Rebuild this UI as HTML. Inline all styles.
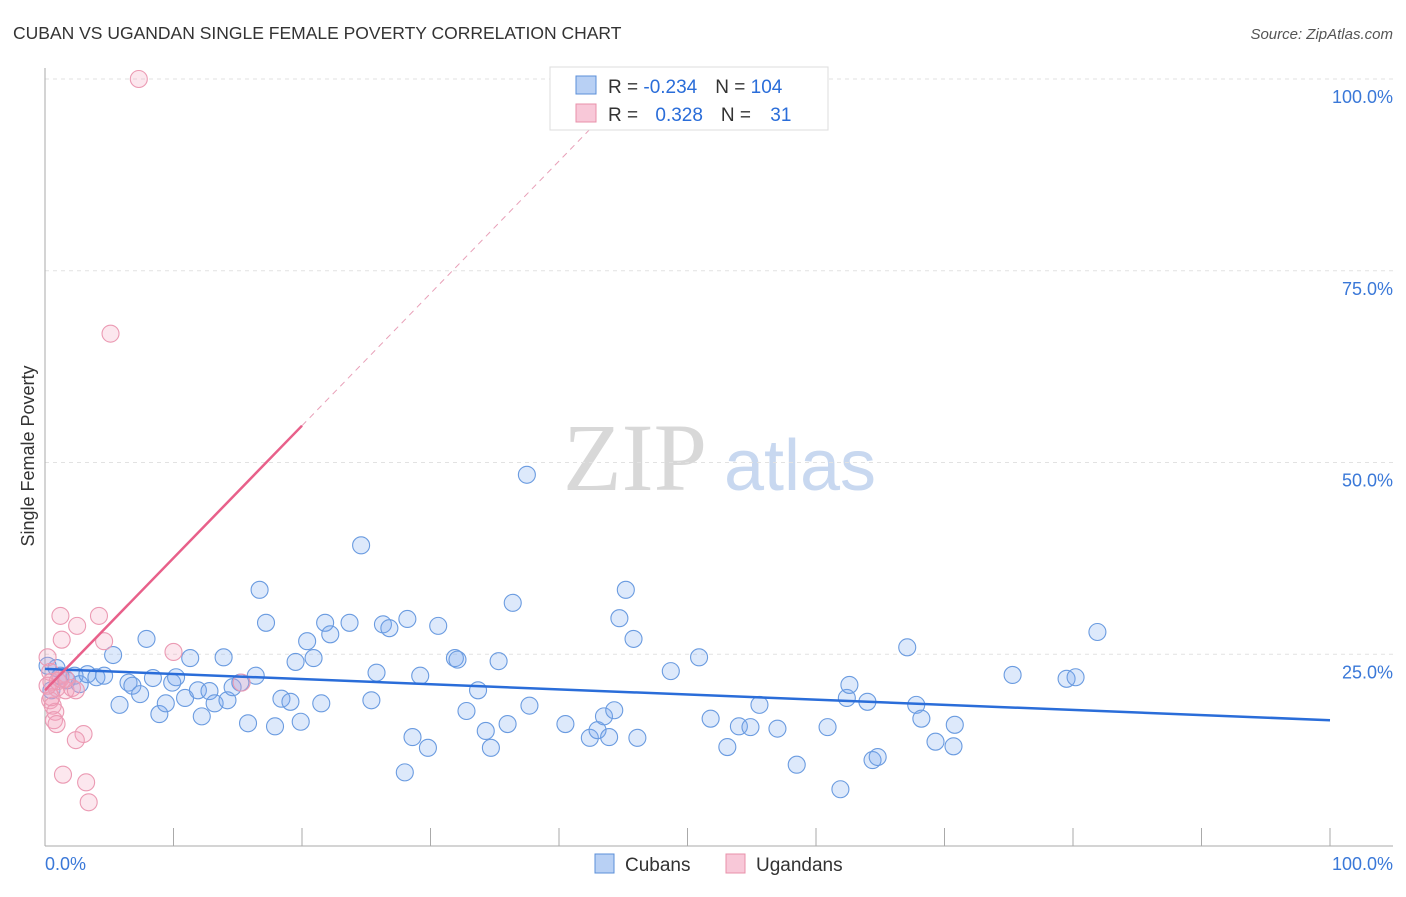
<!DOCTYPE html>
<html><head><meta charset="utf-8"><style>
body{margin:0;background:#fff;font-family:"Liberation Sans",sans-serif;}
svg text{font-family:"Liberation Sans",sans-serif;}
</style></head><body>
<svg id="chart" width="1406" height="892" xmlns="http://www.w3.org/2000/svg">
<text x="13" y="39" font-size="17.5" fill="#333">CUBAN VS UGANDAN SINGLE FEMALE POVERTY CORRELATION CHART</text>
<text x="1393" y="39" font-size="15" fill="#555" text-anchor="end" font-style="italic">Source: ZipAtlas.com</text>
<g><text x="635" y="490" font-size="96" fill="#d8d8d8" text-anchor="middle" style="font-family:'Liberation Serif',serif">ZIP</text><text x="800" y="490" font-size="72" fill="#c8d8f0" text-anchor="middle">atlas</text></g>
<g id="grid"></g><g id="axes"></g>
<text transform="translate(34,456) rotate(-90)" font-size="18" fill="#333" text-anchor="middle">Single Female Poverty</text>
<g id="pts"></g><g id="lines"></g>
<g>
<rect x="550" y="67" width="278" height="63" fill="#fff" stroke="#ddd"/>
<rect x="576" y="76" width="20" height="18" fill="#b8d0f4" stroke="#5b8fd8"/>
<rect x="576" y="104" width="20" height="18" fill="#f8c8d8" stroke="#e890aa"/>
<text x="608" y="93" font-size="19" fill="#333">R = <tspan fill="#2a6dd9">-0.234</tspan><tspan dx="18" fill="#333">N = </tspan><tspan fill="#2a6dd9">104</tspan></text>
<text x="608" y="121" font-size="19" fill="#333">R = <tspan dx="12" fill="#2a6dd9">0.328</tspan><tspan dx="18" fill="#333">N = </tspan><tspan dx="14" fill="#2a6dd9">31</tspan></text>
</g>
<g>
<rect x="595" y="854" width="19" height="19" fill="#b8d0f4" stroke="#5b8fd8"/>
<text x="625" y="871" font-size="19" fill="#333">Cubans</text>
<rect x="726" y="854" width="19" height="19" fill="#f8c8d8" stroke="#e890aa"/>
<text x="756" y="871" font-size="19" fill="#333">Ugandans</text>
</g>
</svg>
<script>
const cubanX=[0.9,1.2,1.7,2.3,2.7,3.3,4.0,4.6,5.3,5.8,6.5,6.8,7.4,7.9,8.4,8.9,9.4,9.9,10.2,10.9,11.3,11.9,12.2,12.8,13.2,13.9,14.2,14.6,15.2,15.8,16.4,16.7,17.2,17.9,18.4,19.1,19.5,19.9,20.4,20.9,21.5,21.8,22.2,23.7,24.6,25.4,25.8,26.3,26.8,28.0,28.2,28.6,29.2,29.8,30.6,31.9,32.1,32.8,33.7,34.3,34.7,35.3,36.0,36.4,37.7,37.5,40.5,42.4,43.0,43.5,43.9,44.3,44.7,45.2,45.8,46.1,48.7,50.9,51.8,53.1,54.0,54.9,55.6,57.0,58.5,60.9,61.9,62.4,62.6,64.0,64.4,64.8,67.1,67.8,68.2,69.3,70.7,70.8,75.3,79.5,80.2,81.9,0.2,0.5];
const cubanY=[23.2,22.2,21.6,22.2,21.1,22.4,22.0,22.2,24.9,18.4,21.3,20.9,19.8,27.0,21.9,17.2,18.6,21.3,22.0,19.3,24.5,20.3,16.9,20.2,18.6,24.6,19.0,20.7,21.3,16.0,22.2,33.4,29.1,15.6,19.2,18.8,24.0,16.2,26.7,24.5,18.6,29.1,27.6,29.1,39.2,19.0,22.6,28.9,28.4,9.6,29.6,14.2,22.2,12.8,28.7,24.5,24.3,17.6,20.3,15.0,12.8,24.1,15.9,31.7,18.3,48.4,15.9,14.1,15.1,16.9,14.2,17.7,29.7,33.4,27.0,14.1,22.8,24.6,16.6,12.9,15.6,15.5,18.4,15.3,10.6,15.5,7.4,19.3,21.0,18.8,11.2,11.6,25.9,18.4,16.6,13.6,13.0,15.8,22.3,21.8,22.0,27.9,23.5,20.3];
const ugandanX=[7.3,5.1,1.2,4.2,2.5,1.3,4.6,10.0,15.3,0.2,0.4,0.5,0.9,1.2,1.6,2.1,2.4,0.4,0.6,0.8,0.7,0.9,0.5,1.0,3.0,2.4,1.4,3.2,3.4,0.2,1.6];
const ugandanY=[100,66.8,30.0,30.0,28.7,26.9,26.7,25.3,21.3,24.6,22.7,21.4,20.6,21.8,20.3,20.6,20.3,19.0,18.3,17.5,16.4,15.9,19.4,21.5,14.6,13.8,9.3,8.3,5.7,20.9,21.8];
const cubanTrend=[23.1,16.4];
const ugandanTrend=[20.3,54.8];
const yTicks=[25,50,75,100];
const yTickLabels=["25.0%","50.0%","75.0%","100.0%"];
const xTicks=[0,10,20,30,40,50,60,70,80,90,100];

const NS="http://www.w3.org/2000/svg";
const X=v=>45+v*12.85, Y=v=>846-v*7.67;
function mk(tag,attrs,parent){const e=document.createElementNS(NS,tag);for(const k in attrs)e.setAttribute(k,attrs[k]);parent.appendChild(e);return e;}
const grid=document.getElementById('grid'),axes=document.getElementById('axes'),pts=document.getElementById('pts'),lines=document.getElementById('lines');
yTicks.forEach((t,i)=>{
  const l=mk('line',{x1:45,x2:1393,y1:Y(t),y2:Y(t),stroke:'#e2e2e2','stroke-dasharray':'4,4'},grid);
  
  
  const tx=mk('text',{x:1393,y:Y(t)+24,'font-size':18,fill:'#3a78d8','text-anchor':'end'},axes);
  tx.textContent=yTickLabels[i];
  
  
});
const yl=mk('line',{x1:45,x2:45,y1:68,y2:846,stroke:'#aaa'},axes);


const xl=mk('line',{x1:45,x2:1393,y1:846,y2:846,stroke:'#aaa'},axes);


xTicks.forEach(t=>{
  const l=mk('line',{x1:X(t),x2:X(t),y1:828,y2:846,stroke:'#aaa'},axes);
  
  
});
const x0=mk('text',{x:45,y:870,'font-size':18,fill:'#3a78d8'},axes);x0.textContent='0.0%';


const x1=mk('text',{x:1393,y:870,'font-size':18,fill:'#3a78d8','text-anchor':'end'},axes);x1.textContent='100.0%';


cubanX.forEach((v,i)=>{
  const c=mk('circle',{cx:X(v),cy:Y(cubanY[i]),r:8.5,fill:'rgba(120,168,238,0.25)',stroke:'#6a9be0','stroke-width':1.1},pts);
  
  
});
ugandanX.forEach((v,i)=>{
  const c=mk('circle',{cx:X(v),cy:Y(ugandanY[i]),r:8.5,fill:'rgba(242,160,188,0.25)',stroke:'#eb9ab3','stroke-width':1.1},pts);
  
  
});
const cl=mk('line',{x1:X(0),y1:Y(cubanTrend[0]),x2:X(100),y2:Y(cubanTrend[1]),stroke:'#2a6dd9','stroke-width':2.5},lines);


const slope=(ugandanTrend[1]-ugandanTrend[0])/20;
const ul=mk('line',{x1:X(0),y1:Y(ugandanTrend[0]),x2:X(20),y2:Y(ugandanTrend[1]),stroke:'#e8608a','stroke-width':2.5},lines);


const xe=42.5;
const ud=mk('line',{x1:X(20),y1:Y(ugandanTrend[1]),x2:X(xe),y2:Y(ugandanTrend[0]+slope*xe),stroke:'#e8a0b8','stroke-width':1,'stroke-dasharray':'6,5'},lines);


</script>
</body></html>
